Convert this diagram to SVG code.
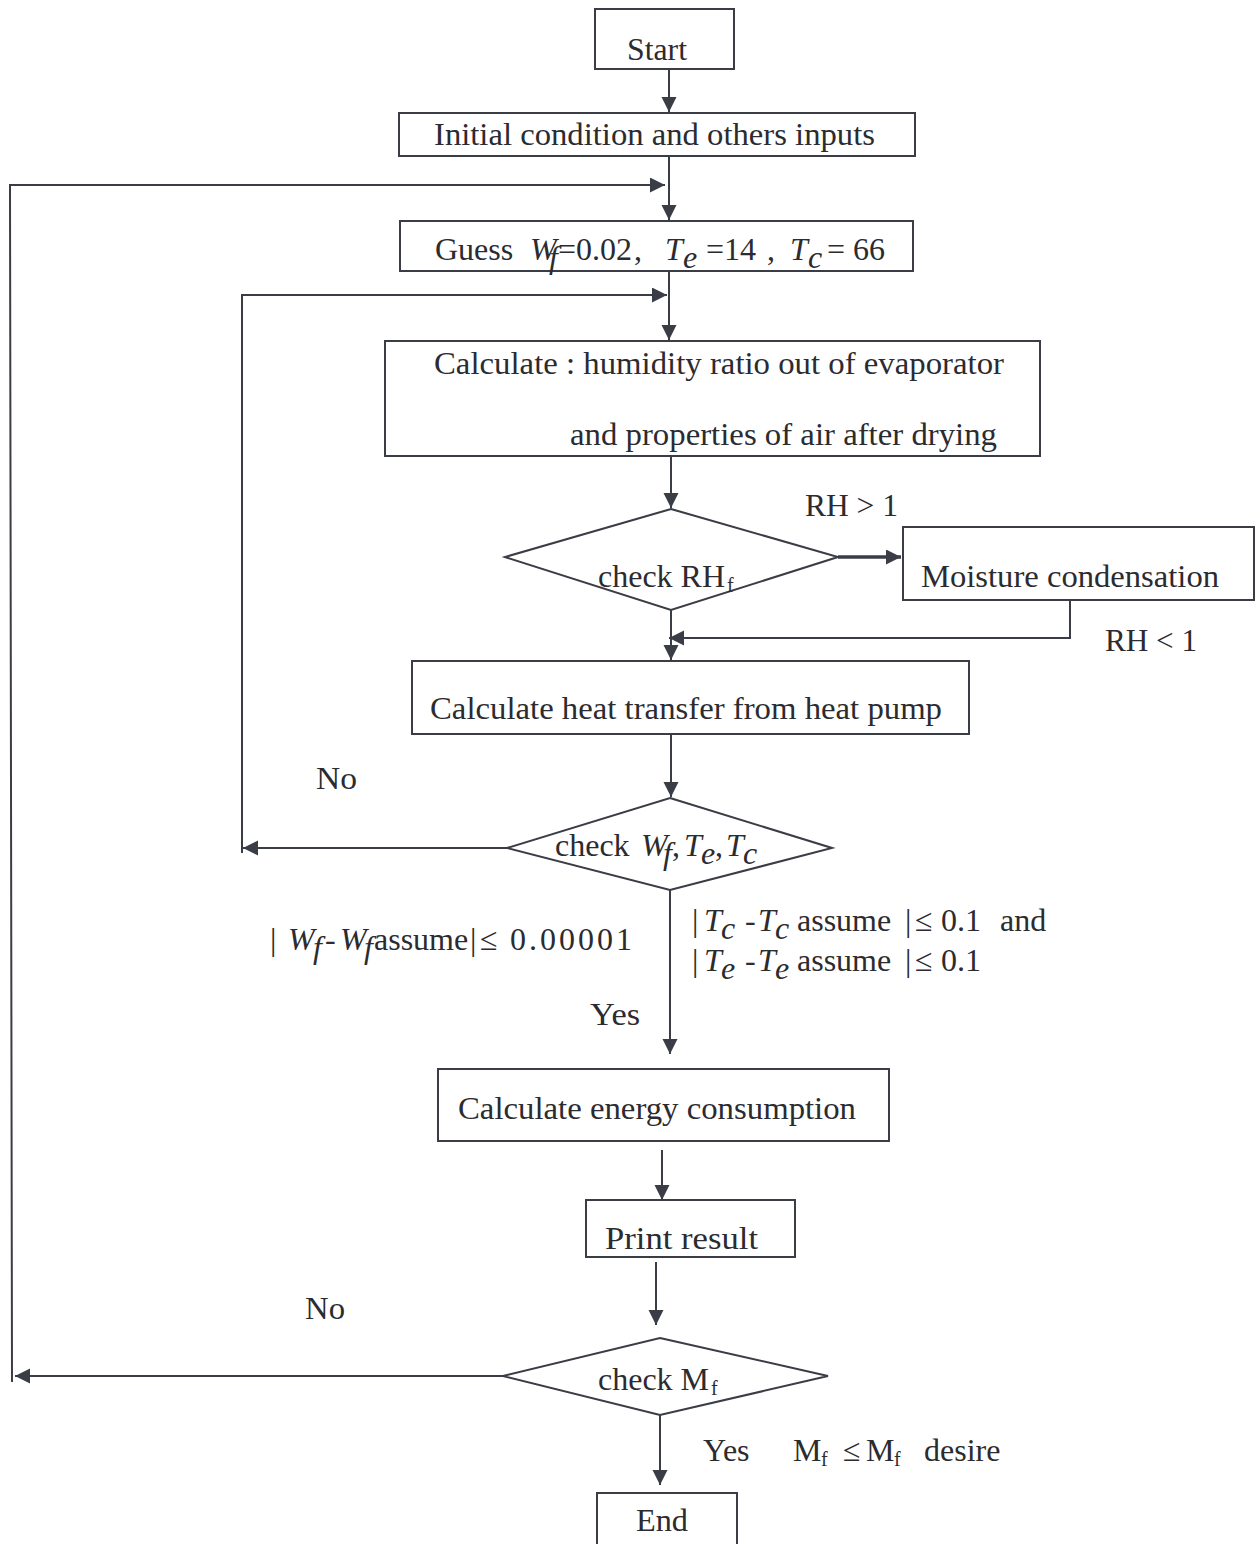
<svg xmlns="http://www.w3.org/2000/svg" width="1260" height="1544" viewBox="0 0 1260 1544">
<defs>
<style>
.box{fill:#fff;stroke:#3a3c46;stroke-width:2}
.ln{fill:none;stroke:#3a3c46;stroke-width:2}
.t{font-family:"Liberation Serif","Times New Roman",serif;font-size:32px;fill:#2b2b30}
.i{font-style:italic}
.s{font-size:20px}
</style>
<marker id="ah" markerUnits="userSpaceOnUse" markerWidth="16" markerHeight="16" refX="15" refY="7.5" orient="auto">
<path d="M0,0 L15,7.5 L0,15 z" fill="#3a3c46"/>
</marker>
</defs>
<rect width="1260" height="1544" fill="#fff"/>

<g id="connectors">
<line class="ln" x1="669" y1="69" x2="669" y2="112" marker-end="url(#ah)"/>
<line class="ln" x1="669" y1="156" x2="669" y2="220" marker-end="url(#ah)"/>
<polyline class="ln" points="12,1382 10,185 665,185" marker-end="url(#ah)"/>
<line class="ln" x1="669" y1="271" x2="669" y2="340" marker-end="url(#ah)"/>
<polyline class="ln" points="242,853 242,295 667,295" marker-end="url(#ah)"/>
<line class="ln" x1="671" y1="456" x2="671" y2="508" marker-end="url(#ah)"/>
<line class="ln" x1="838" y1="557" x2="901" y2="557" style="stroke-width:3.5" marker-end="url(#ah)"/>
<polyline class="ln" points="1070,600 1070,638 669,638" marker-end="url(#ah)"/>
<line class="ln" x1="671" y1="610" x2="671" y2="660" marker-end="url(#ah)"/>
<line class="ln" x1="671" y1="734" x2="671" y2="797" marker-end="url(#ah)"/>
<line class="ln" x1="507" y1="848" x2="243" y2="848" marker-end="url(#ah)"/>
<line class="ln" x1="670" y1="890" x2="670" y2="1054" marker-end="url(#ah)"/>
<line class="ln" x1="662" y1="1150" x2="662" y2="1200" marker-end="url(#ah)"/>
<line class="ln" x1="656" y1="1262" x2="656" y2="1325" marker-end="url(#ah)"/>
<line class="ln" x1="503" y1="1376" x2="15" y2="1376" marker-end="url(#ah)"/>
<line class="ln" x1="660" y1="1415" x2="660" y2="1485" marker-end="url(#ah)"/>
<text class="t" x="805" y="516" textLength="93" lengthAdjust="spacingAndGlyphs">RH &gt; 1</text>
<text class="t" x="1105" y="651" textLength="92" lengthAdjust="spacingAndGlyphs">RH &lt; 1</text>
<text class="t" x="316" y="789" textLength="41" lengthAdjust="spacingAndGlyphs">No</text>
<text class="t" x="305" y="1319" textLength="40" lengthAdjust="spacingAndGlyphs">No</text>
<text class="t" x="590" y="1025" textLength="50" lengthAdjust="spacingAndGlyphs">Yes</text>
<text id="cond-wf" class="t" y="950"><tspan x="270">|</tspan><tspan class="i" x="288">W</tspan><tspan class="i" x="313" y="958">f</tspan><tspan x="325" y="950">-</tspan><tspan class="i" x="340">W</tspan><tspan class="i" x="364" y="958">f</tspan><tspan x="374" y="950">assume</tspan><tspan x="470">|</tspan><tspan x="480">≤</tspan><tspan x="510" style="letter-spacing:3px">0.00001</tspan></text>
<text id="cond-tc" class="t" y="931"><tspan x="692">|</tspan><tspan class="i" x="704">T</tspan><tspan class="i" x="721" y="939">c</tspan><tspan x="745" y="931">-</tspan><tspan class="i" x="758">T</tspan><tspan class="i" x="775" y="939">c</tspan><tspan x="797" y="931">assume</tspan><tspan x="905">|</tspan><tspan x="915">≤</tspan><tspan x="941">0.1</tspan><tspan x="1000">and</tspan></text>
<text id="cond-te" class="t" y="971"><tspan x="692">|</tspan><tspan class="i" x="704">T</tspan><tspan class="i" x="721" y="979">e</tspan><tspan x="745" y="971">-</tspan><tspan class="i" x="758">T</tspan><tspan class="i" x="775" y="979">e</tspan><tspan x="797" y="971">assume</tspan><tspan x="905">|</tspan><tspan x="915">≤</tspan><tspan x="941">0.1</tspan></text>
<text id="cond-mf" class="t" y="1461"><tspan x="703">Yes</tspan><tspan x="793">M</tspan><tspan class="s" x="821" y="1466">f</tspan><tspan x="843" y="1461">≤</tspan><tspan x="866">M</tspan><tspan class="s" x="894" y="1466">f</tspan><tspan x="924" y="1461">desire</tspan></text>
</g>

<g id="start">
<rect class="box" x="595" y="9" width="139" height="60"/>
<text class="t" x="627" y="60" textLength="60" lengthAdjust="spacingAndGlyphs">Start</text>
</g>
<g id="initial">
<rect class="box" x="399" y="113" width="516" height="43"/>
<text class="t" x="434" y="145" textLength="441" lengthAdjust="spacingAndGlyphs">Initial condition and others inputs</text>
</g>
<g id="guess">
<rect class="box" x="400" y="221" width="513" height="50"/>
<text class="t" y="260"><tspan x="435">Guess</tspan><tspan class="i" x="530">W</tspan><tspan class="i" x="549" y="268">f</tspan><tspan x="558" y="260">=0.02</tspan><tspan x="634">,</tspan><tspan class="i" x="665">T</tspan><tspan class="i" x="683" y="268">e</tspan><tspan x="706" y="260">=14</tspan><tspan x="767">,</tspan><tspan class="i" x="790">T</tspan><tspan class="i" x="808" y="268">c</tspan><tspan x="827" y="260">= 66</tspan></text>
</g>
<g id="calc-humidity">
<rect class="box" x="385" y="341" width="655" height="115"/>
<text class="t" x="434" y="374" textLength="570" lengthAdjust="spacingAndGlyphs">Calculate : humidity ratio out of evaporator</text>
<text class="t" x="570" y="445" textLength="427" lengthAdjust="spacingAndGlyphs">and properties of air after drying</text>
</g>
<g id="check-rh">
<polygon class="box" points="671,509 838,557 671,610 505,557"/>
<text class="t" y="587"><tspan x="598">check RH</tspan><tspan class="s" x="727" y="592">f</tspan></text>
</g>
<g id="moisture">
<rect class="box" x="903" y="527" width="351" height="73"/>
<text class="t" x="921" y="587" textLength="298" lengthAdjust="spacingAndGlyphs">Moisture condensation</text>
</g>
<g id="heat-transfer">
<rect class="box" x="412" y="661" width="557" height="73"/>
<text class="t" x="430" y="719" textLength="512" lengthAdjust="spacingAndGlyphs">Calculate heat transfer from heat pump</text>
</g>
<g id="check-w">
<polygon class="box" points="670,798 832,848 670,890 507,848"/>
<text class="t" y="856"><tspan x="555">check</tspan><tspan class="i" x="641">W</tspan><tspan class="i" x="663" y="864">f</tspan><tspan x="672" y="856">,</tspan><tspan class="i" x="684">T</tspan><tspan class="i" x="701" y="864">e</tspan><tspan x="715" y="856">,</tspan><tspan class="i" x="726">T</tspan><tspan class="i" x="743" y="864">c</tspan></text>
</g>
<g id="energy">
<rect class="box" x="438" y="1069" width="451" height="72"/>
<text class="t" x="458" y="1119" textLength="398" lengthAdjust="spacingAndGlyphs">Calculate energy consumption</text>
</g>
<g id="print">
<rect class="box" x="586" y="1200" width="209" height="57"/>
<text class="t" x="605" y="1249" textLength="153" lengthAdjust="spacingAndGlyphs">Print  result</text>
</g>
<g id="check-m">
<polygon class="box" points="660,1338 828,1376 660,1415 503,1376"/>
<text class="t" y="1390"><tspan x="598">check M</tspan><tspan class="s" x="711" y="1395">f</tspan></text>
</g>
<g id="end">
<rect class="box" x="597" y="1493" width="140" height="60"/>
<text class="t" x="636" y="1531" textLength="52" lengthAdjust="spacingAndGlyphs">End</text>
</g>
</svg>
